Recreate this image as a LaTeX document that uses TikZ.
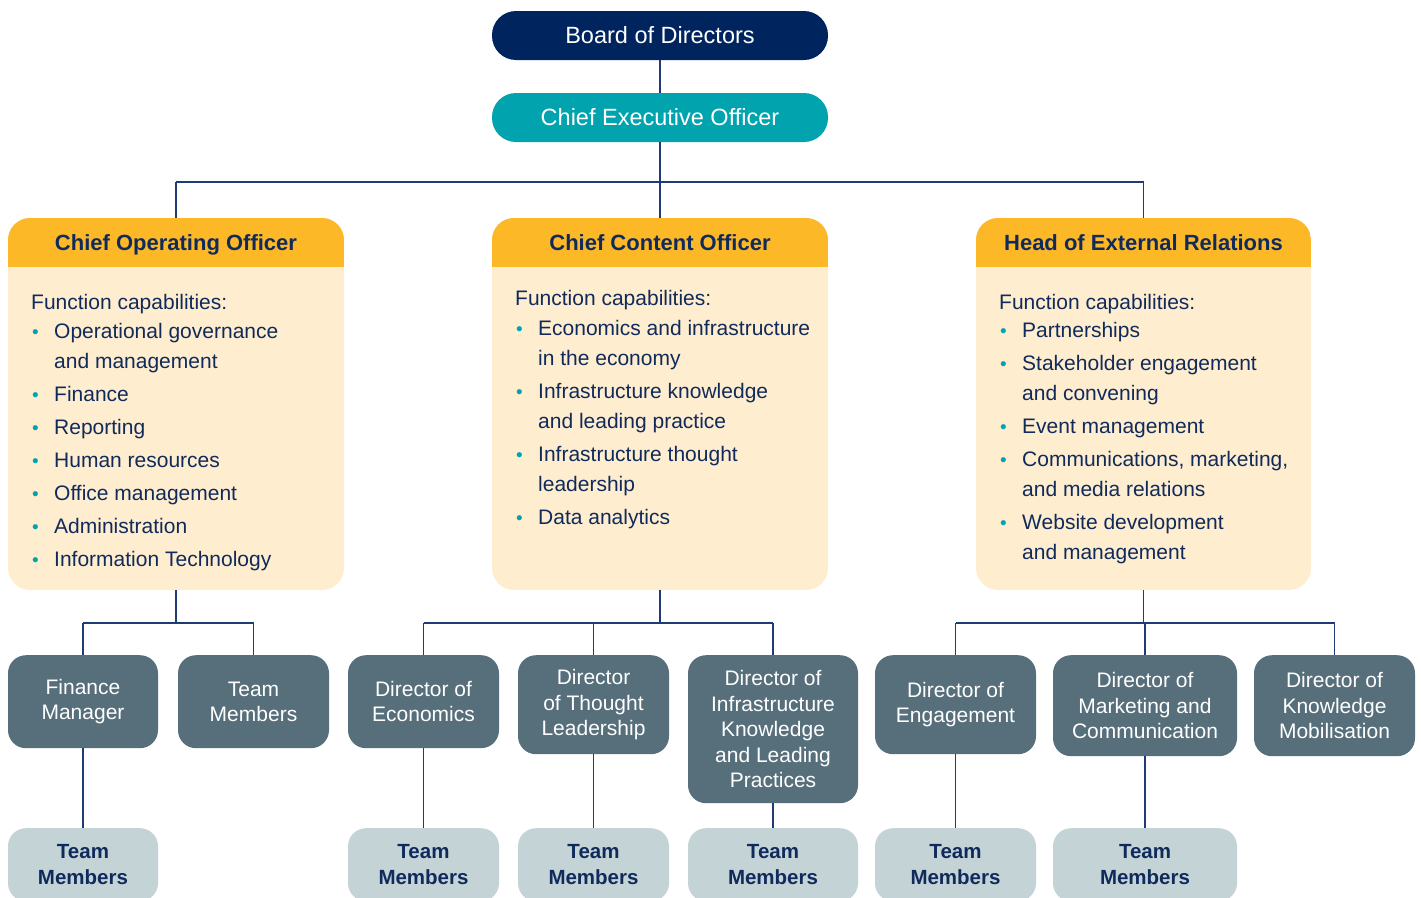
\documentclass[tikz,border=0pt]{standalone}
\usepackage{fontspec}
\setmainfont{Liberation Sans}
\usetikzlibrary{positioning}

\definecolor{boardblue}{RGB}{0,36,94}
\definecolor{ceoteal}{RGB}{0,163,174}
\definecolor{headgold}{RGB}{253,184,39}
\definecolor{cardcream}{RGB}{255,237,207}
\definecolor{slate}{RGB}{86,111,123}
\definecolor{mist}{RGB}{195,211,214}
\definecolor{inkblue}{RGB}{16,43,91}
\definecolor{wireblue}{RGB}{31,59,115}

\newcommand{\bul}{\makebox[23pt][l]{\hspace{1pt}\raisebox{0.5pt}{\textcolor{ceoteal}{\fontsize{19}{19}\selectfont\textbullet}}}}
\newcommand{\ind}{\hspace*{23pt}}

\tikzset{
  pill/.style={rounded corners=24, minimum width=336, minimum height=49, inner sep=0,
    text=white, font=\fontsize{23.5}{28}\selectfont},
  card/.style={rounded corners=22, fill=cardcream, minimum height=372, inner sep=0,
    path picture={\fill[headgold, sharp corners] (path picture bounding box.north west)
      rectangle ([yshift=-49pt]path picture bounding box.north east);}},
  headtext/.style={anchor=base, inner sep=0, text=inkblue, font=\bfseries\fontsize{22}{26}\selectfont},
  captext/.style={anchor=north west, inner sep=0, align=left, text=inkblue,
    font=\fontsize{21}{30}\selectfont},
  dirbox/.style={anchor=north, rounded corners=18, fill=slate, inner sep=0, align=center,
    text=white, font=\fontsize{21}{25.5}\selectfont},
  teambox/.style={anchor=north, rounded corners=18, fill=mist, inner sep=0, align=center,
    minimum height=73, text=inkblue, font=\bfseries\fontsize{20.5}{25.5}\selectfont},
  wire/.style={draw=wireblue, line width=1.5}
}

\begin{document}
\begin{tikzpicture}[x=1pt,y=-1pt]
   \useasboundingbox (0,0) rectangle (1421,897);
   \clip (0,0) rectangle (1421,897);
   % top of the chart
   \node[pill, fill=boardblue] (board) at (660,35.5) {Board of Directors};
   \node[pill, fill=ceoteal] (ceo) at (660,117.5) {Chief Executive Officer};
   % the three cards
   \node[card, minimum width=336] (coo) at (176,404) {};
   \node[card, minimum width=336] (cco) at (660,404) {};
   \node[card, minimum width=335] (her) at (1143.5,404) {};
   \node[headtext] (cootitle) at (176,250.5) {Chief Operating Officer};
   \node[headtext] (ccotitle) at (660,250.5) {Chief Content Officer};
   \node[headtext] (hertitle) at (1143.5,250.5) {Head of External Relations};
   \node[captext] (coolist) at (31,294.5) {Function capabilities:\\[-1pt]
     \bul Operational governance\\
     \ind and management\\[3pt]
     \bul Finance\\[3pt]
     \bul Reporting\\[3pt]
     \bul Human resources\\[3pt]
     \bul Office management\\[3pt]
     \bul Administration\\[3pt]
     \bul Information Technology};
   \node[captext] (ccolist) at (515,290.5) {Function capabilities:\\
     \bul Economics and infrastructure\\
     \ind in the economy\\[3pt]
     \bul Infrastructure knowledge\\
     \ind and leading practice\\[3pt]
     \bul Infrastructure thought\\
     \ind leadership\\[3pt]
     \bul Data analytics};
   \node[captext] (herlist) at (999,294.5) {Function capabilities:\\[-2pt]
     \bul Partnerships\\[3pt]
     \bul Stakeholder engagement\\
     \ind and convening\\[3pt]
     \bul Event management\\[3pt]
     \bul Communications, marketing,\\
     \ind and media relations\\[3pt]
     \bul Website development\\
     \ind and management};
   % directors
   \node[dirbox, minimum width=150, minimum height=93] (fm) at (83,655) {Finance\\Manager};
   \node[dirbox, minimum width=151, minimum height=93] (tm) at (253.5,655) {Team\\Members};
   \node[dirbox, minimum width=151, minimum height=93] (econ) at (423.5,655) {Director of\\Economics};
   \node[dirbox, minimum width=151, minimum height=99] (thought) at (593.5,655) {Director\\of Thought\\Leadership};
   \node[dirbox, minimum width=170, minimum height=148] (infra) at (773,655) {Director of\\Infrastructure\\Knowledge\\and Leading\\Practices};
   \node[dirbox, minimum width=161, minimum height=99] (engage) at (955.5,655) {Director of\\Engagement};
   \node[dirbox, minimum width=184, minimum height=101] (market) at (1145,655) {Director of\\Marketing and\\Communication};
   \node[dirbox, minimum width=161, minimum height=101] (know) at (1334.5,655) {Director of\\Knowledge\\Mobilisation};
   % team members
   \node[teambox, minimum width=150] (tfm) at (83,828) {Team\\Members};
   \node[teambox, minimum width=151] (tecon) at (423.5,828) {Team\\Members};
   \node[teambox, minimum width=151] (tthought) at (593.5,828) {Team\\Members};
   \node[teambox, minimum width=170] (tinfra) at (773,828) {Team\\Members};
   \node[teambox, minimum width=161] (tengage) at (955.5,828) {Team\\Members};
   \node[teambox, minimum width=184] (tmarket) at (1145,828) {Team\\Members};
   % bends of the wires
   \coordinate (hub) at (660,182);
   \coordinate (cooup) at (176,182);
   \coordinate (herup) at (1143.5,182);
   \coordinate (fmup) at (83,623);
   \coordinate (tmup) at (253.5,623);
   \coordinate (coodn) at (176,623);
   \coordinate (econup) at (423.5,623);
   \coordinate (thoughtup) at (593.5,623);
   \coordinate (infraup) at (773,623);
   \coordinate (ccodn) at (660,623);
   \coordinate (engup) at (955.5,623);
   \coordinate (marketup) at (1145,623);
   \coordinate (knowup) at (1334.5,623);
   \coordinate (herdn) at (1143.5,623);
   \path[wire]%
     (board) edge (ceo) %board to ceo
     (ceo) edge (hub) %ceo down
     (hub) edge (cco) %to content
     (cooup) edge (herup) %cross bar
     (cooup) edge (coo) %to operations
     (herup) edge (her) %to relations
     (coo) edge (coodn) %operations down
     (fmup) edge (tmup)
     (fmup) edge (fm)
     (tmup) edge (tm)
     (fm) edge (tfm)
     (cco) edge (ccodn) %content down
     (econup) edge (infraup)
     (econup) edge (econ)
     (thoughtup) edge (thought)
     (infraup) edge (infra)
     (econ) edge (tecon)
     (thought) edge (tthought)
     (infra) edge (tinfra)
     (her) edge (herdn) %relations down
     (engup) edge (knowup)
     (engup) edge (engage)
     (marketup) edge (market)
     (knowup) edge (know)
     (engage) edge (tengage)
     (market) edge (tmarket); %marketing to team
\end{tikzpicture}
\end{document}
